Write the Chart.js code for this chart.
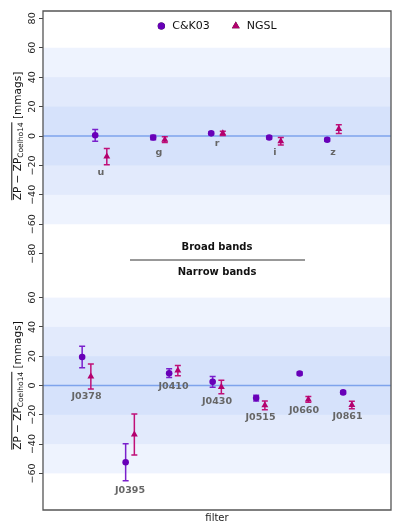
<!DOCTYPE html>
<html>
<head>
<meta charset="utf-8">
<script src="https://cdn.jsdelivr.net/npm/chart.js@4.4.1/dist/chart.umd.min.js"></script>
<style>
  html, body { margin: 0; padding: 0; background: #fff; }
  #wrap { position: relative; width: 399px; height: 532px; overflow: hidden; }
  .pane { position: absolute; left: 0; width: 399px; }
</style>
</head>
<body>
<div id="wrap">
  <!-- panes overlap by a few px: chart.js keeps 4px of slack at the inner edges -->
  <div class="pane" style="top:0;height:265px"><canvas id="broad"></canvas></div>
  <div class="pane" style="top:257px;height:275px"><canvas id="narrow"></canvas></div>
</div>
<script>
// broad bands (top panel)
const broadBands = ["u", "g", "r", "i", "z"];
const broadCK = [0.5, -1, 1.8, -1, -2.5];
const broadCKErr = [4, 1.5, 1, 1, 1];
const broadNGSL = [-14, -2.5, 1.8, -3.6, 4.7];
const broadNGSLErr = [5.5, 2, 1.5, 2.5, 3];
const broadLabelY = [-25, -11, -5, -11, -11];
const broadTicks = [-80, -60, -40, -20, 0, 20, 40, 60, 80];

// narrow bands (bottom panel)
const narrowBands = ["J0378", "J0395", "J0410", "J0430", "J0515", "J0660", "J0861"];
const narrowCK = [19.5, -52.4, 8.4, 2.5, -8.6, 8.2, -4.7];
const narrowCKErr = [7.3, 12.7, 3, 3.7, 2, 1, 1];
const narrowNGSL = [6.1, -33.4, 10.2, -1.1, -13.5, -9.5, -13.3];
const narrowNGSLErr = [8.5, 14, 3.5, 4.6, 3, 2, 2.5];
const narrowLabelY = [-7.6, -72, -1, -11, -22, -17, -21];
const narrowTicks = [-60, -40, -20, 0, 20, 40, 60];

const FONT = "'DejaVu Sans', sans-serif";
const ckColor = "#6800b8", ckErrColor = "#7a20cc";
const ngColor = "#b3006e", ngErrColor = "#c01078";
const frameColor = "#555";

const pts = (vals, off) => vals.map((v, i) => ({ x: i + 1 + off, y: v }));

function drawYTitle(ctx, cx, cy) {
  ctx.save();
  ctx.translate(cx, cy);
  ctx.rotate(-Math.PI / 2);
  const big = "10.5px " + FONT, small = "7.5px " + FONT;
  const p1 = "ZP \u2212 ZP", p2 = "Coelho14", p3 = " [mmags]";
  ctx.font = big;
  const w1 = ctx.measureText(p1).width, w3 = ctx.measureText(p3).width;
  ctx.font = small;
  const w2 = ctx.measureText(p2).width;
  const x0 = -(w1 + w2 + w3) / 2;
  ctx.fillStyle = "#111";
  ctx.textBaseline = "alphabetic";
  ctx.textAlign = "left";
  ctx.font = big; ctx.fillText(p1, x0, 3.7);
  ctx.font = small; ctx.fillText(p2, x0 + w1, 6.2);
  ctx.font = big; ctx.fillText(p3, x0 + w1 + w2, 3.7);
  ctx.strokeStyle = "#111";
  ctx.lineWidth = 1;
  ctx.beginPath();
  ctx.moveTo(x0, -5.2);
  ctx.lineTo(x0 + w1 + w2, -5.2);
  ctx.stroke();
  ctx.restore();
}

function drawLegend(chart) {
  const { ctx, chartArea: a } = chart;
  const sets = chart.data.datasets;
  ctx.save();
  ctx.font = "11px " + FONT;
  ctx.textBaseline = "middle";
  ctx.textAlign = "left";
  const markW = 8, gap = 7, between = 22;
  const widths = sets.map((ds) => markW + gap + ctx.measureText(ds.label).width);
  const total = widths.reduce((s, w) => s + w, 0) + between * (sets.length - 1);
  let x = (a.left + a.right) / 2 - total / 2;
  const y = a.top + 15;
  sets.forEach((ds, i) => {
    Chart.helpers.drawPoint(ctx, {
      pointStyle: ds.pointStyle,
      radius: ds.pointStyle === "triangle" ? 4.5 : 3.6,
      rotation: 0,
      borderWidth: 0,
    }, x + markW / 2, y);
    ctx.fillStyle = ds.backgroundColor;
    ctx.fill();
    ctx.fillStyle = "#111";
    ctx.fillText(ds.label, x + markW + gap, y);
    x += widths[i] + between;
  });
  ctx.restore();
}

const panelPlugin = {
  id: "panel",
  beforeDraw(chart) {
    // shaded ±20/40/60 bands and zero line
    const { ctx, chartArea: a, scales: { y } } = chart;
    ctx.save();
    [[60, "#eef3fe"], [40, "#e2eafc"], [20, "#d6e2fb"]].forEach(([lim, c]) => {
      const t = y.getPixelForValue(lim), b = y.getPixelForValue(-lim);
      ctx.fillStyle = c;
      ctx.fillRect(a.left, t, a.right - a.left, b - t);
    });
    const y0 = y.getPixelForValue(0);
    ctx.strokeStyle = "#7ea3ec";
    ctx.lineWidth = 1.5;
    ctx.beginPath(); ctx.moveTo(a.left, y0); ctx.lineTo(a.right, y0); ctx.stroke();
    ctx.restore();
  },
  beforeDatasetsDraw(chart) {
    const { ctx, scales: { x, y } } = chart;
    ctx.save();
    chart.data.datasets.forEach((ds) => {
      ctx.strokeStyle = ds.errColor;
      ctx.lineWidth = 1.5;
      ds.data.forEach((p, i) => {
        const px = x.getPixelForValue(p.x);
        const hi = y.getPixelForValue(p.y + ds.err[i]);
        const lo = y.getPixelForValue(p.y - ds.err[i]);
        ctx.beginPath();
        ctx.moveTo(px, hi); ctx.lineTo(px, lo);
        ctx.moveTo(px - 3, hi); ctx.lineTo(px + 3, hi);
        ctx.moveTo(px - 3, lo); ctx.lineTo(px + 3, lo);
        ctx.stroke();
      });
    });
    ctx.restore();
  },
  afterDatasetsDraw(chart, args, opts) {
    const { ctx, scales: { x, y } } = chart;
    ctx.save();
    ctx.font = "bold 9.5px " + FONT;
    ctx.fillStyle = "#666";
    ctx.textAlign = "center";
    ctx.textBaseline = "middle";
    opts.names.forEach((n, i) => {
      ctx.fillText(n, x.getPixelForValue(i + 1), y.getPixelForValue(opts.labelY[i]));
    });
    ctx.restore();
  },
  afterDraw(chart, args, opts) {
    const { ctx, chartArea: a } = chart;
    ctx.save();
    ctx.strokeStyle = frameColor;
    ctx.lineWidth = 1.3;
    ctx.beginPath();
    if (opts.side === "top") {
      ctx.moveTo(a.left, a.bottom); ctx.lineTo(a.left, a.top);
      ctx.lineTo(a.right, a.top); ctx.lineTo(a.right, a.bottom);
    } else {
      ctx.moveTo(a.left, a.top); ctx.lineTo(a.left, a.bottom);
      ctx.lineTo(a.right, a.bottom); ctx.lineTo(a.right, a.top);
    }
    ctx.stroke();
    ctx.fillStyle = "#111";
    ctx.font = "bold 10px " + FONT;
    ctx.textAlign = "center";
    ctx.textBaseline = "middle";
    const cx = (a.left + a.right) / 2;
    if (opts.side === "top") {
      ctx.fillText("Broad bands", cx, a.bottom - 14);
      ctx.strokeStyle = "#333";
      ctx.lineWidth = 1;
      ctx.beginPath(); ctx.moveTo(130, a.bottom - 1); ctx.lineTo(305, a.bottom - 1); ctx.stroke();
    } else {
      ctx.fillText("Narrow bands", cx, a.top + 11);
    }
    ctx.restore();
    if (opts.legend) drawLegend(chart);
    drawYTitle(ctx, 17, (a.top + a.bottom) / 2);
  },
};

function yScale(ticks) {
  return {
    min: -85,
    max: 85,
    border: { display: false },
    grid: { drawOnChartArea: false, drawTicks: true, tickLength: 4, color: "#444" },
    ticks: {
      font: { family: FONT, size: 9.5 },
      color: "#222",
      minRotation: 90,
      maxRotation: 90,
      crossAlign: "center",
      padding: -3.5,
      callback: (v) => (v < 0 ? "\u2212" + Math.abs(v) : String(v)),
    },
    afterBuildTicks: (s) => { s.ticks = ticks.map((v) => ({ value: v })); },
    afterFit: (s) => { s.width = 43; s.paddingTop = 0; s.paddingBottom = 0; },
  };
}

function makeSets(ck, ckErr, ng, ngErr) {
  return [
    {
      label: "C&K03",
      data: pts(ck, -0.1),
      err: ckErr,
      errColor: ckErrColor,
      pointStyle: "circle",
      pointRadius: 3.3,
      backgroundColor: ckColor,
      borderColor: ckColor,
      borderWidth: 0,
    },
    {
      label: "NGSL",
      data: pts(ng, 0.1),
      err: ngErr,
      errColor: ngErrColor,
      pointStyle: "triangle",
      pointRadius: 4,
      backgroundColor: ngColor,
      borderColor: ngColor,
      borderWidth: 0,
    },
  ];
}

new Chart(document.getElementById("broad"), {
  type: "scatter",
  data: { datasets: makeSets(broadCK, broadCKErr, broadNGSL, broadNGSLErr) },
  options: {
    responsive: true,
    maintainAspectRatio: false,
    animation: false,
    layout: { padding: { top: 11, right: 8, left: 0, bottom: 0 } },
    scales: {
      x: { type: "linear", min: 0, max: 6, display: false },
      y: yScale(broadTicks),
    },
    plugins: {
      tooltip: { enabled: false },
      legend: { display: false },
      panel: { names: broadBands, labelY: broadLabelY, side: "top", legend: true },
    },
  },
  plugins: [panelPlugin],
});

new Chart(document.getElementById("narrow"), {
  type: "scatter",
  data: { datasets: makeSets(narrowCK, narrowCKErr, narrowNGSL, narrowNGSLErr) },
  options: {
    responsive: true,
    maintainAspectRatio: false,
    animation: false,
    layout: { padding: { top: 0, right: 8, left: 0, bottom: 8 } },
    scales: {
      x: {
        type: "linear",
        min: 0,
        max: 8,
        border: { display: false },
        grid: { display: false },
        ticks: { display: false },
        title: { display: true, text: "filter", color: "#222", font: { family: FONT, size: 10 }, padding: 0 },
        afterFit: (s) => { s.height = 14; },
      },
      y: yScale(narrowTicks),
    },
    plugins: {
      tooltip: { enabled: false },
      legend: { display: false },
      panel: { names: narrowBands, labelY: narrowLabelY, side: "bottom", legend: false },
    },
  },
  plugins: [panelPlugin],
});
</script>
</body>
</html>
